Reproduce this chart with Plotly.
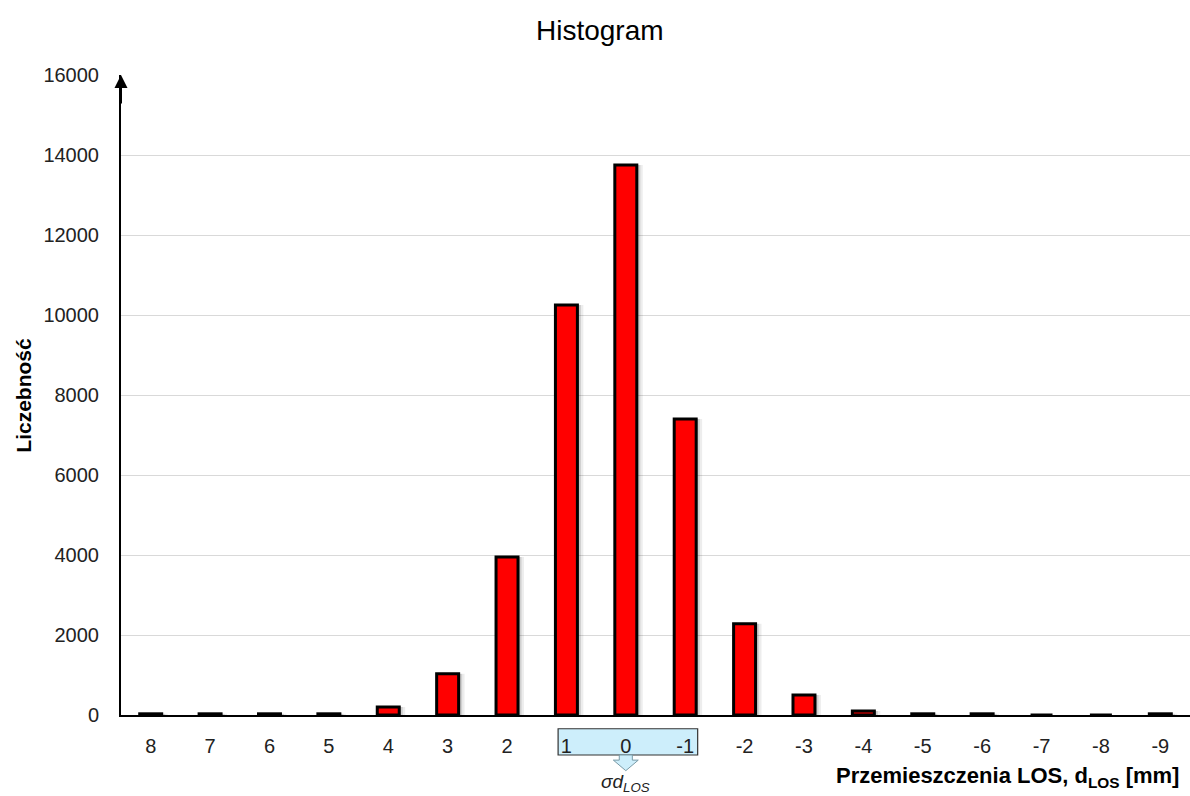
import plotly.graph_objects as go

# Histogram of LOS displacements (bin labels run from +8 down to -9 mm)
bin_labels = ["8", "7", "6", "5", "4", "3", "2", "1", "0", "-1",
              "-2", "-3", "-4", "-5", "-6", "-7", "-8", "-9"]
counts = [30, 30, 30, 30, 200, 1030, 3950, 10250, 13750, 7400,
          2280, 500, 100, 30, 30, 0, 0, 30]
y_ticks = [0, 2000, 4000, 6000, 8000, 10000, 12000, 14000, 16000]

positions = list(range(len(bin_labels)))
bar_w = 0.37
FONT = "Liberation Sans, Arial, sans-serif"

fig = go.Figure()

# soft drop shadow to the right of each bar
for shift, alpha in [(0.10, 0.07), (0.06, 0.12), (0.03, 0.12)]:
    fig.add_trace(go.Bar(
        x=positions, y=counts, width=bar_w, offset=-bar_w / 2 + shift,
        marker=dict(color=f"rgba(0,0,0,{alpha})", line=dict(width=0)),
        hoverinfo="skip", showlegend=False,
    ))

fig.add_trace(go.Bar(
    x=positions, y=counts, width=bar_w,
    marker=dict(color="#ff0000", line=dict(color="black", width=3)),
    showlegend=False,
))

# highlight of the central bins (1, 0, -1) below the axis
i1, i0, im1 = bin_labels.index("1"), bin_labels.index("0"), bin_labels.index("-1")
fig.add_shape(type="rect", xref="x", yref="paper",
              x0=i1 - 0.14, x1=im1 + 0.21, y0=-0.0625, y1=-0.0215,
              fillcolor="#cdeefb", line=dict(color="#333333", width=1.2),
              layer="below")
ax0 = i0
sw, hw = 0.11, 0.21
fig.add_shape(type="path", xref="x", yref="paper",
              path=(f"M {ax0-sw} -0.0625 L {ax0-sw} -0.0705 L {ax0-hw} -0.0705 "
                    f"L {ax0} -0.087 L {ax0+hw} -0.0705 L {ax0+sw} -0.0705 "
                    f"L {ax0+sw} -0.0625 Z"),
              fillcolor="#cdeefb", line=dict(color="#7a9aa6", width=1),
              layer="below")
fig.add_annotation(x=ax0, xref="x", y=-0.106, yref="paper",
                   text="<i>σd<sub>LOS</sub></i>", showarrow=False,
                   font=dict(family=FONT, size=19, color="#222222"),
                   xanchor="center", yanchor="middle")

# arrow head on top of the y axis
fig.add_annotation(x=0, xref="paper", y=1.0, yref="paper",
                   ax=0, axref="pixel", ay=30, ayref="pixel",
                   text="", showarrow=True, arrowhead=2, arrowsize=1.3,
                   arrowwidth=2, arrowcolor="black")

# axis titles
fig.add_annotation(x=0.992, xref="paper", y=-0.097, yref="paper",
                   text="<b>Przemieszczenia LOS, d<sub>LOS</sub> [mm]</b>",
                   showarrow=False, xanchor="right", yanchor="middle",
                   font=dict(family=FONT, size=22, color="black"))
fig.add_annotation(x=-0.092, xref="paper", y=0.5, yref="paper",
                   text="<b>Liczebność</b>", textangle=-90,
                   showarrow=False, xanchor="center", yanchor="middle",
                   font=dict(family=FONT, size=21, color="black"))

fig.update_layout(
    width=1190, height=796,
    margin=dict(l=121, r=0, t=75, b=81),
    paper_bgcolor="white", plot_bgcolor="white",
    barmode="overlay",
    title=dict(text="Histogram", x=0.504, xanchor="center", y=0.962,
               yanchor="middle", font=dict(family=FONT, size=28, color="black")),
    font=dict(family=FONT, size=20, color="#222222"),
    xaxis=dict(range=[-0.5, len(bin_labels) - 0.5], tickvals=positions,
               ticktext=bin_labels, showgrid=False, zeroline=False,
               showline=True, linecolor="black", linewidth=2,
               ticks="", ticklabelstandoff=12,
               tickfont=dict(family=FONT, size=20, color="#222222")),
    yaxis=dict(range=[0, 16000], tickvals=y_ticks, tickformat="d",
               showgrid=True, gridcolor="#d9d9d9", gridwidth=1, zeroline=False,
               showline=True, linecolor="black", linewidth=2,
               ticks="", ticklabelstandoff=16,
               tickfont=dict(family=FONT, size=20, color="#222222")),
)

fig.write_html("out.html")
